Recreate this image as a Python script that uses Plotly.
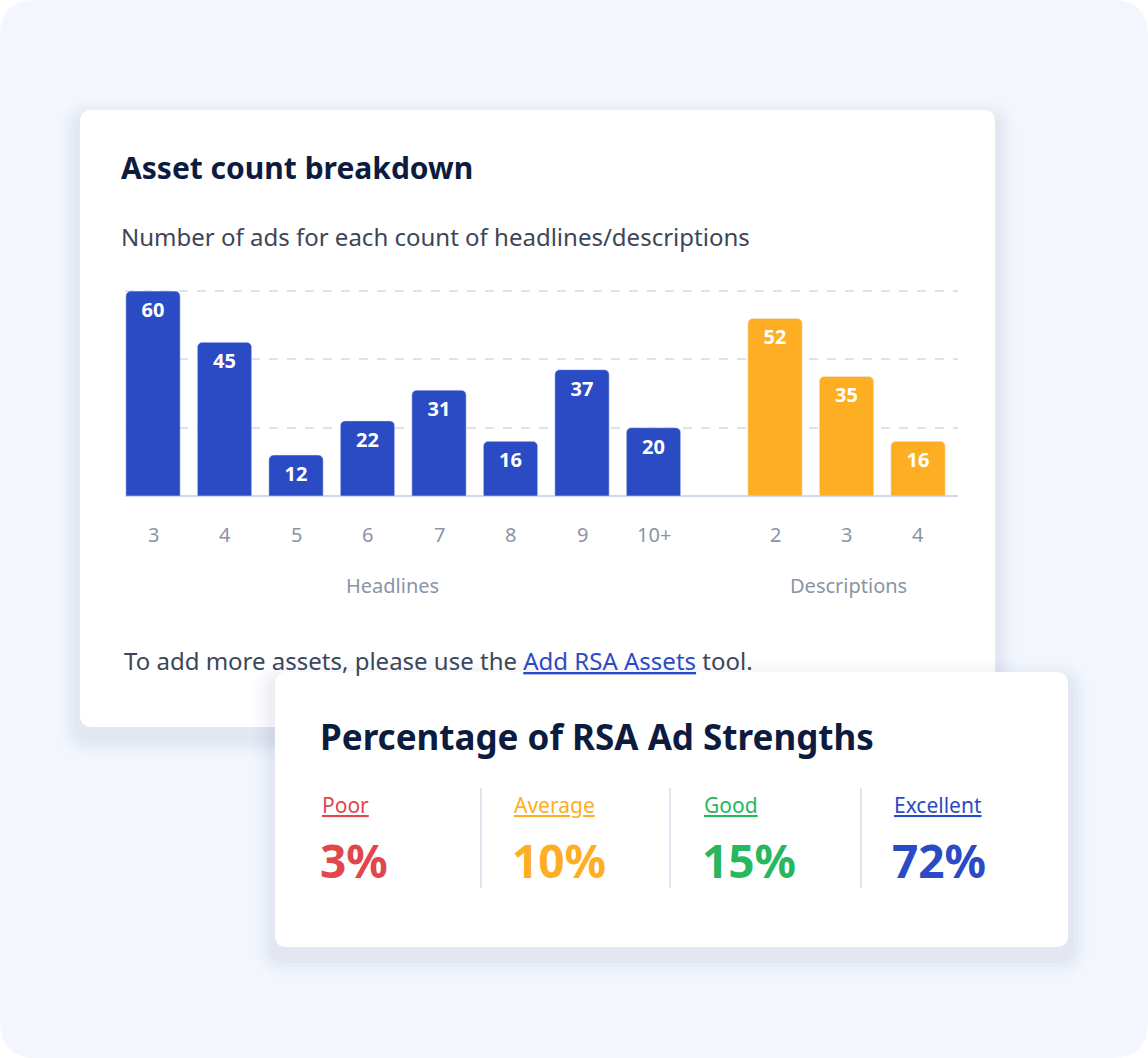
import plotly.graph_objects as go

W, H = 1148, 1058
FONT = "Noto Sans"

# data
head_labels = ["3", "4", "5", "6", "7", "8", "9", "10+"]
head_values = [60, 45, 12, 22, 31, 16, 37, 20]
desc_labels = ["2", "3", "4"]
desc_values = [52, 35, 16]
strength_names = ["Poor", "Average", "Good", "Excellent"]
strength_pct = [3, 10, 15, 72]
strength_colors = ["#e0474c", "#fdae22", "#27b85f", "#2b4bc4"]

BLUE = "#2b4bc4"
ORANGE = "#fdae22"

def px(x): return x / W
def py(y): return 1 - y / H

def rrect(x0, y0, x1, y1, r):
    X0, X1 = px(x0), px(x1)
    Y0, Y1 = py(y0), py(y1)
    rx, ry = r / W, r / H
    return (f"M{X0+rx},{Y0} L{X1-rx},{Y0} Q{X1},{Y0} {X1},{Y0-ry} "
            f"L{X1},{Y1+ry} Q{X1},{Y1} {X1-rx},{Y1} L{X0+rx},{Y1} "
            f"Q{X0},{Y1} {X0},{Y1+ry} L{X0},{Y0-ry} Q{X0},{Y0} {X0+rx},{Y0} Z")

shapes = []
shapes.append(dict(type="path", xref="paper", yref="paper", path=rrect(0, 0, 1148, 1058, 36),
                   fillcolor="#f3f7fd", line=dict(width=0), layer="below"))

def card(x0, y0, x1, y1):
    for i, op in enumerate([0.012, 0.015, 0.018, 0.022, 0.025]):
        g = 22 - i * 4
        shapes.append(dict(type="path", xref="paper", yref="paper",
                           path=rrect(x0 - g, y0 - g + 10, x1 + g, y1 + g + 10, 12 + g),
                           fillcolor=f"rgba(70,85,130,{op})", line=dict(width=0), layer="below"))
    shapes.append(dict(type="path", xref="paper", yref="paper", path=rrect(x0, y0, x1, y1, 12),
                       fillcolor="white", line=dict(width=0), layer="below"))

card(80, 110, 995, 727)

# bar positions (units of one bar slot)
SLOT = 71.5
hx = list(range(len(head_values)))
dx = [8.7 + j for j in range(len(desc_values))]
x_lo = (125 - 153) / SLOT
x_hi = (958 - 153) / SLOT

fig = go.Figure()
for xs, vals, col in [(hx, head_values, BLUE), (dx, desc_values, ORANGE)]:
    fig.add_trace(go.Bar(x=xs, y=vals, width=0.76, marker=dict(color=col, cornerradius=5),
                         text=[str(v) for v in vals], textposition="inside",
                         insidetextanchor="end", textangle=0,
                         textfont=dict(color="white", size=20, family=FONT, weight="bold"),
                         cliponaxis=False, hoverinfo="skip"))

fig.update_layout(
    width=W, height=H, margin=dict(l=0, r=0, t=0, b=0),
    paper_bgcolor="white", plot_bgcolor="rgba(0,0,0,0)", showlegend=False,
    font=dict(family=FONT),
    xaxis=dict(domain=[px(125), px(958)], range=[x_lo, x_hi], visible=False),
    yaxis=dict(domain=[py(496), py(286)], range=[0, 61.5], showgrid=True, gridcolor="#dde3ec",
               griddash="dash", gridwidth=1.5, tickvals=[20, 40, 60], showticklabels=False,
               zeroline=True, zerolinecolor="#cfd9e8", zerolinewidth=1.5),
)

card(275, 672, 1068, 947)
for xd in [481, 670, 861]:
    shapes.append(dict(type="line", xref="paper", yref="paper", x0=px(xd), x1=px(xd),
                       y0=py(788), y1=py(888), line=dict(color="#d5dde8", width=1.5)))

ann = []
def txt(x, y, s, size, color, anchor="left", weight="normal", xref="paper"):
    ann.append(dict(x=x if xref != "paper" else px(x), y=py(y), xref=xref, yref="paper", text=s,
                    showarrow=False, xanchor=anchor, yanchor="middle",
                    font=dict(size=size, color=color, family=FONT, weight=weight)))

for xs, labs in [(hx, head_labels), (dx, desc_labels)]:
    for x, l in zip(xs, labs):
        txt(x, 534, l, 20, "#8a94a6", "center", xref="x")

txt(119, 167, "Asset count breakdown", 30, "#0d1b3e", weight="bold")
txt(119, 236, "Number of ads for each count of headlines/descriptions", 24, "#3c4658")
txt(392, 585, "Headlines", 20, "#8a94a6", "center")
txt(848, 585, "Descriptions", 20, "#8a94a6", "center")
txt(122, 660, f"To add more assets, please use the <span style='color:{BLUE}'><u>Add RSA Assets</u></span> tool.",
    24, "#3c4658")
txt(318, 736, "Percentage of RSA Ad Strengths", 35, "#0d1b3e", weight="bold")
for x, n, p, c in zip([320, 512, 702, 892], strength_names, strength_pct, strength_colors):
    txt(x, 805, f"<u>{n}</u>", 21, c)
    txt(x - 2, 860, f"{p}%", 46, c, weight="bold")

fig.update_layout(shapes=shapes, annotations=ann)
fig.write_html("out.html", config={"displayModeBar": False},
               post_script="document.body.style.margin='0';document.body.style.overflow='hidden';")
